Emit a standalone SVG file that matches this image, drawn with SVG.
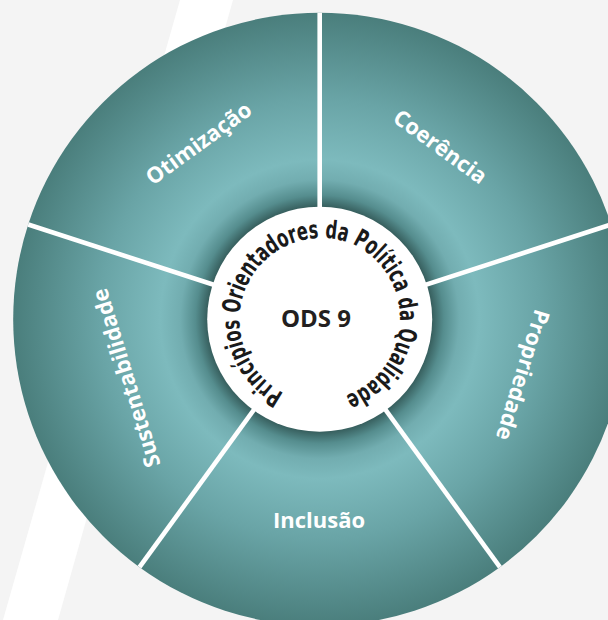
<svg xmlns="http://www.w3.org/2000/svg" width="608" height="620" viewBox="0 0 608 620">
<defs>
<radialGradient id="ring" gradientUnits="userSpaceOnUse" cx="319.7" cy="319.2" r="306.5">
<stop offset="0.367" stop-color="#375f5e"/>
<stop offset="0.405" stop-color="#558d8e"/>
<stop offset="0.455" stop-color="#72adb0"/>
<stop offset="0.52" stop-color="#7dbabd"/>
<stop offset="0.72" stop-color="#69a4a6"/>
<stop offset="1" stop-color="#4a7e7c"/>
</radialGradient>
<path id="arc" d="M 283.8 392.9 A 82 82 0 0 1 355.6 245.5 A 82 82 0 0 1 283.8 392.9"/>
<style>
.seg{fill:url(#ring);}
.lbl{font-family:"Open Sans","Liberation Sans",sans-serif;font-weight:bold;font-size:22px;fill:#ffffff;text-anchor:middle;}
.div{stroke:#ffffff;stroke-width:4.6;fill:none;}
</style>
</defs>
<rect x="0" y="0" width="608" height="620" fill="#f4f4f4"/>
<polygon points="180,0 233,0 58,620 3,620" fill="#ffffff"/>
<g id="seg-otimizacao">
<path class="seg" d="M319.7 319.2 L319.7 12.7 A306.5 306.5 0 0 0 28.2 224.5 Z"/>
<text class="lbl" transform="translate(198.5 143) rotate(-36)" dy="0.36em">Otimização</text>
</g>
<g id="seg-coerencia">
<path class="seg" d="M319.7 319.2 L319.7 12.7 A306.5 306.5 0 0 1 611.2 224.5 Z"/>
<text class="lbl" transform="translate(440.5 146.5) rotate(36)" dy="0.36em">Coerência</text>
</g>
<g id="seg-propriedade">
<path class="seg" d="M319.7 319.2 L611.2 224.5 A306.5 306.5 0 0 1 499.9 567.2 Z"/>
<text class="lbl" transform="translate(523 375) rotate(107)" dy="0.36em">Propriedade</text>
</g>
<g id="seg-inclusao">
<path class="seg" d="M319.7 319.2 L499.9 567.2 A306.5 306.5 0 0 1 139.5 567.2 Z"/>
<text class="lbl" transform="translate(319 520)" dy="0.36em">Inclusão</text>
</g>
<g id="seg-sustentabilidade">
<path class="seg" d="M319.7 319.2 L139.5 567.2 A306.5 306.5 0 0 1 28.2 224.5 Z"/>
<text class="lbl" transform="translate(126 378) rotate(-107)" dy="0.36em">Sustentabilidade</text>
</g>
<g id="connectors">
<line class="div" x1="319.7" y1="319.2" x2="319.7" y2="12.7"/>
<line class="div" x1="319.7" y1="319.2" x2="611.2" y2="224.5"/>
<line class="div" x1="319.7" y1="319.2" x2="499.9" y2="567.2"/>
<line class="div" x1="319.7" y1="319.2" x2="139.5" y2="567.2"/>
<line class="div" x1="319.7" y1="319.2" x2="28.2" y2="224.5"/>
</g>
<g id="center">
<circle cx="319.7" cy="319.2" r="112.5" fill="#ffffff"/>
<text font-family="'Liberation Sans Narrow','DejaVu Sans Condensed','Open Sans',sans-serif" font-weight="bold" font-size="25" fill="#1a1a1a"><textPath href="#arc" textLength="444" lengthAdjust="spacingAndGlyphs">Princípios Orientadores da Política da Qualidade</textPath></text>
<text x="316" y="327" font-family="'Open Sans','Liberation Sans',sans-serif" font-weight="bold" font-size="24" fill="#231f20" text-anchor="middle">ODS 9</text>
</g>
</svg>
